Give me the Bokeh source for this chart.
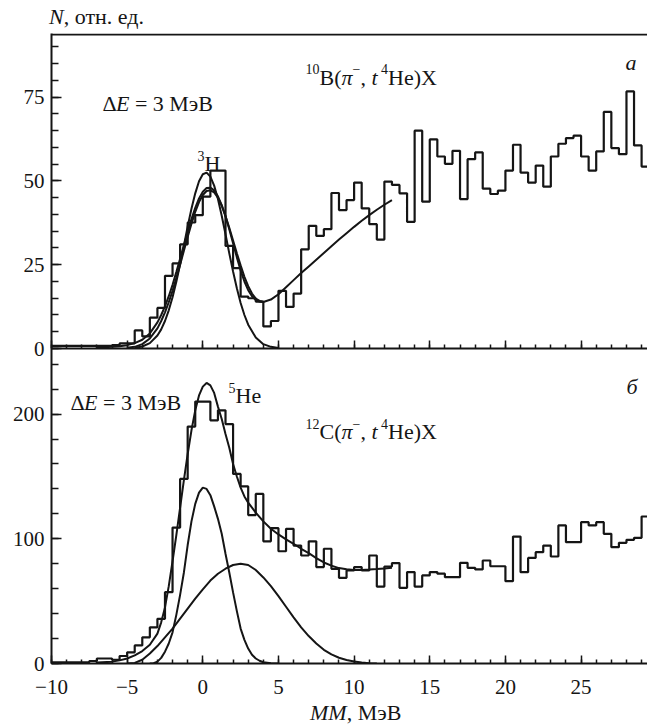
from bokeh.plotting import figure
from bokeh.models import Range1d, FixedTicker, Label, Span, Div
from bokeh.layouts import column
from bokeh.embed import file_html
from bokeh.resources import INLINE

# ---------------- data ----------------
BIN_START = -10.0
BIN_WIDTH = 0.5

# (a) 10B(pi-, t 4He)X  -- counts per 0.5 MeV bin starting at -10 MeV
TOP_COUNTS = [0.8, 0.8, 0.8, 0.8, 0.8, 0.8, 0.8, 0.8,
              1.0, 1.5, 1.5, 5.4, 3.6, 9.2, 12.1, 21.7, 25.4, 31.1, 37.6, 39.8,
              45.3, 53.1, 53.1, 30.6, 24.0, 15.5, 15.0, 14.0, 6.6, 8.2,
              17.2, 12.4, 16.4, 29.6, 36.6, 33.6, 35.6, 46.4, 41.3, 44.3,
              49.5, 41.8, 37.1, 32.5, 49.8, 48.8, 46.3, 37.8, 65.0, 43.8,
              62.4, 57.3, 55.1, 59.0, 44.6, 56.5, 58.5, 47.7, 46.1, 47.1,
              53.1, 60.8, 52.5, 49.5, 54.6, 48.3, 57.3, 61.1, 62.8, 63.5,
              57.3, 53.1, 58.8, 70.6, 59.8, 58.0, 76.7, 60.6, 54.3]

# (б) 12C(pi-, t 4He)X
BOT_COUNTS = [1.0, 1.0, 1.0, 1.0, 1.0,
              2.0, 4.0, 4.0, 3.0, 6.0, 9.0, 14.5, 21.0, 29.0, 35.8,
              57.2, 109, 148, 190, 210, 210, 195, 203, 192, 152,
              142, 119, 136, 98, 108.5, 90, 108, 94.6, 86.6, 98,
              77.3, 92, 75.9, 68.7, 74.6, 77.3, 74.6, 86.6, 61.7, 77.8,
              80.5, 60.7, 73.3, 61.7, 70.6, 73.3, 72, 69.2, 69.2, 80.7,
              76.7, 75.4, 82.6, 78, 78, 66, 101.8, 73.2, 84.7, 89.3,
              94.6, 85.8, 110.7, 97.3, 97.3, 113.3, 110.7, 113.3, 104, 93.3,
              96.8, 99.2, 100.8, 117.9]

# fit curves, panel (a)
TOP_PEAK_X = [-4.5, -4, -3.5, -3, -2.75, -2.5, -2.25, -2, -1.75, -1.5, -1.25, -1,
              -0.75, -0.5, -0.25, 0, 0.25, 0.5, 0.75, 1, 1.25, 1.5, 1.75, 2,
              2.25, 2.5, 2.75, 3, 3.5, 4, 4.5, 5]
TOP_PEAK_Y = [0.2, 0.6, 1.6, 3.9, 5.7, 8.2, 11.4, 15.3, 19.9, 25.1, 30.7, 36.4,
              41.7, 46.3, 49.9, 52.0, 52.5, 51.3, 48.6, 44.6, 39.6, 34.1, 28.4, 23.0,
              18.0, 13.6, 10.0, 7.1, 3.3, 1.3, 0.5, 0.15]

TOP_FIT_X = [-7, -6.5, -6, -5.5, -5, -4.5, -4, -3.5, -3,
             -2.75, -2.5, -2.25, -2, -1.75, -1.5, -1.25, -1, -0.75, -0.5, -0.25,
             0, 0.25, 0.5, 0.75, 1, 1.25, 1.5, 1.75, 2, 2.25, 2.5, 2.75, 3, 3.25,
             3.5, 3.75, 4,
             4.5, 5, 5.5, 6, 6.5, 7, 7.5, 8, 8.5, 9, 9.5, 10, 10.5, 11, 11.5, 12, 12.5]
TOP_FIT_Y = [0.3, 0.4, 0.5, 0.7, 1.0, 1.6, 2.6, 4.5, 7.8,
             10.0, 12.6, 15.6, 19.0, 22.8, 26.8, 30.8, 34.8, 38.6, 42.0, 44.8,
             46.8, 47.9, 48.0, 47.2, 45.4, 42.8, 39.5, 35.6, 31.4, 27.2, 23.3, 20.0, 17.4, 15.6,
             14.5, 14.0, 13.9,
             14.6, 16.2, 18.3, 20.4, 22.5, 24.5, 26.5, 28.5, 30.5, 32.5, 34.4, 36.3, 38.1,
             39.8, 41.4, 42.9, 44.3]

TOP_ALT_X = [-5, -4.5, -4, -3.5, -3,
             -2.75, -2.5, -2.25, -2, -1.75, -1.5, -1.25, -1, -0.75, -0.5, -0.25,
             0, 0.25, 0.5, 0.75, 1, 1.25, 1.5, 1.75, 2, 2.25, 2.5, 2.75, 3, 3.25,
             3.5, 3.75, 4]
TOP_ALT_Y = [0.2, 0.5, 1.3, 3.0, 6.0,
             8.2, 10.8, 13.8, 17.2, 21.0, 25.0, 29.2, 33.3, 37.2, 40.8, 43.7,
             45.8, 47.0, 47.2, 46.6, 45.0, 42.6, 39.5, 36.0, 32.2, 28.4, 24.8, 21.4, 18.6, 16.4,
             14.9, 14.2, 13.9]

# fit curves, panel (б)
BOT_FIT_X = [-7, -6, -5.5, -5, -4.5, -4, -3.5, -3,
             -2.75, -2.5, -2.25, -2, -1.75, -1.5, -1.25, -1, -0.75, -0.5, -0.25,
             0, 0.25, 0.5, 0.75, 1, 1.25, 1.5, 1.75, 2, 2.25, 2.5, 2.75, 3,
             3.5, 4, 4.5, 5, 5.5, 6, 6.5, 7, 7.5, 8, 8.5, 9, 9.5, 10, 10.5, 11, 11.5, 12, 12.5]
BOT_FIT_Y = [0.8, 1.5, 2.5, 4.0, 6.5, 10, 15, 24,
             33, 45, 62, 82, 103, 125, 147, 168, 187, 203, 215,
             222, 225, 223, 217, 206, 196, 184, 173, 160, 150, 141, 134, 129,
             121, 114, 108, 103.5, 99.5, 96, 92, 88.5, 84.5, 81, 78.5, 76.5, 75.5, 75, 75,
             75.3, 75.7, 76.2, 76.7]

BOT_GS_X = [-3.5, -3.25, -3, -2.75, -2.5, -2.25, -2, -1.75, -1.5, -1.25, -1, -0.75,
            -0.5, -0.25, 0, 0.25, 0.5, 0.75, 1, 1.25, 1.5, 1.75, 2, 2.25, 2.5, 2.75,
            3, 3.25, 3.5, 3.75, 4, 4.5, 5]
BOT_GS_Y = [0, 0.3, 1.5, 4.5, 9.5, 16, 25, 39, 55, 73, 95, 114,
            128, 137, 141, 140, 135, 126, 116, 104, 88, 73, 57, 42, 28, 19,
            12, 7, 4, 2.2, 1, 0.2, 0]

BOT_EX_X = [-5, -4.5, -4, -3.5, -3, -2.5, -2, -1.5, -1, -0.5, 0, 0.5, 1, 1.5, 2, 2.5,
            3, 3.5, 4, 4.5, 5, 5.5, 6, 6.5, 7, 7.5, 8, 8.5, 9, 9.5, 10, 10.5, 11, 11.5]
BOT_EX_Y = [0, 0.5, 3, 8, 14, 21, 28, 36, 44, 52, 59.5, 66.5, 72, 76, 79, 80,
            79, 75, 69, 62, 54, 45.5, 37, 29, 22, 16, 11, 7.3, 4.6, 2.8, 1.6, 0.8, 0.3, 0]

X_MAJOR = [-10, -5, 0, 5, 10, 15, 20, 25]
X_MINOR = list(range(-10, 30))
X_LABELS = {-10: "\u221210", -5: "\u22125"}
TOP_Y_MAJOR = [0, 25, 50, 75]
TOP_Y_MINOR = list(range(0, 95, 5))
BOT_Y_MAJOR = [0, 100, 200]
BOT_Y_MINOR = list(range(0, 260, 20))

# ---------------- style ----------------
FONT = "Liberation Serif"
INK = "#151515"
FS_TICK = 21
FS = 22
FS_SUP = 14
SUP_RISE = 8
OVERLAP = 16   # bottom border of panel (a) that panel (б) is laid over

W_UP = {"Δ": .612, "E": .611, "=": .564, " ": .25, "М": .889, "э": .444, "В": .667,
        "B": .667, "C": .667, "(": .333, ")": .333, ",": .25, "H": .722, "e": .444,
        "X": .722, "о": .5, "т": .444, "н": .5, ".": .25, "е": .444, "д": .5,
        "\u2212": .564}
W_IT = {"N": .667, "E": .611, "π": .5, "t": .278, "M": .833, "a": .5, "б": .5}


def runs(p, x, y, parts):
    """parts: (text, italic, superscript) runs laid out left to right."""
    off = 0.0
    for text, ital, sup in parts:
        size = FS_SUP if sup else FS
        table = W_IT if ital else W_UP
        lead = len(text) - len(text.lstrip(" "))
        off += lead * W_UP[" "] * size
        body = text.lstrip(" ")
        p.add_layout(Label(x=x, y=y, x_offset=off, y_offset=SUP_RISE if sup else 0,
                           text=body, text_font=FONT,
                           text_font_size=f"{size}px",
                           text_font_style="italic" if ital else "normal",
                           text_color=INK, text_baseline="alphabetic", text_align="left"))
        off += sum(table.get(ch, 0.5) for ch in body) * size


def style_axis(ax, major_in, minor_in):
    ax.axis_line_width = 2
    ax.axis_line_color = INK
    ax.major_tick_in = major_in
    ax.major_tick_out = 0
    ax.minor_tick_in = minor_in
    ax.minor_tick_out = 0
    ax.major_tick_line_width = 1.5
    ax.minor_tick_line_width = 1.5
    ax.major_tick_line_color = INK
    ax.minor_tick_line_color = INK
    ax.major_label_text_font = FONT
    ax.major_label_text_font_size = f"{FS_TICK}px"
    ax.major_label_text_color = INK


def hist_step(p, counts):
    edges = [BIN_START + BIN_WIDTH * i for i in range(len(counts) + 1)]
    ys = list(counts) + [counts[-1]]
    p.step(x=edges, y=ys, mode="after", line_color=INK, line_width=2.2)


xr = Range1d(-10, 29.39)

# ---------------- header ----------------
head = Div(width=647, height=30, margin=(0, 0, 0, 0),
           text=('<div style="font-family:\'Liberation Serif\';font-size:22px;line-height:33px;'
                 'padding-left:49px;white-space:nowrap;color:#151515">'
                 '<i>N</i>, отн. ед.</div>'))

# ---------------- panel (a) ----------------
p1 = figure(width=647, height=3 + 315 + OVERLAP, x_range=xr, y_range=Range1d(0, 94),
            output_backend="svg", toolbar_location=None,
            min_border_left=51, min_border_right=0, min_border_top=3,
            min_border_bottom=OVERLAP)
p1.grid.visible = False
p1.outline_line_color = None
p1.xaxis.ticker = FixedTicker(ticks=X_MAJOR, minor_ticks=X_MINOR)
p1.yaxis.ticker = FixedTicker(ticks=TOP_Y_MAJOR, minor_ticks=TOP_Y_MINOR)
style_axis(p1.xaxis[0], 8, 4)
style_axis(p1.yaxis[0], 10, 7)
p1.yaxis.major_label_standoff = 7
p1.xaxis.major_label_overrides = {t: "" for t in X_MAJOR}
p1.xaxis.major_label_text_font_size = "0px"
p1.xaxis.major_label_standoff = 0
p1.add_layout(Span(location=93.7, dimension="width", line_color=INK, line_width=2))

hist_step(p1, TOP_COUNTS)
p1.line(TOP_PEAK_X, TOP_PEAK_Y, line_color=INK, line_width=2)
p1.line(TOP_FIT_X, TOP_FIT_Y, line_color=INK, line_width=2)
p1.line(TOP_ALT_X, TOP_ALT_Y, line_color=INK, line_width=2)

runs(p1, -6.63, 73.1, [("Δ", False, False), ("E", True, False), (" = 3 МэВ", False, False)])
runs(p1, -0.35, 55.2, [("3", False, True), ("H", False, False)])
runs(p1, 6.79, 80.9, [("10", False, True), ("B(", False, False), ("π", True, False),
                      ("\u2212", False, True), (", ", False, False), ("t", True, False),
                      (" 4", False, True), ("He)X", False, False)])
runs(p1, 27.94, 85.3, [("a", True, False)])

# ---------------- panel (б) ----------------
p2 = figure(width=647, height=354, x_range=xr, y_range=Range1d(0, 252.6),
            output_backend="svg", toolbar_location=None,
            min_border_left=51, min_border_right=0, min_border_top=0, min_border_bottom=39)
p2.margin = (-OVERLAP, 0, 0, 0)
p2.background_fill_color = None
p2.border_fill_color = None
p2.grid.visible = False
p2.outline_line_color = None
p2.xaxis.ticker = FixedTicker(ticks=X_MAJOR, minor_ticks=X_MINOR)
p2.yaxis.ticker = FixedTicker(ticks=BOT_Y_MAJOR, minor_ticks=BOT_Y_MINOR)
style_axis(p2.xaxis[0], 8, 4)
style_axis(p2.yaxis[0], 10, 7)
p2.yaxis.major_label_standoff = 7
p2.xaxis.major_label_standoff = 16
p2.xaxis.major_label_overrides = X_LABELS

hist_step(p2, BOT_COUNTS)
p2.line(BOT_FIT_X, BOT_FIT_Y, line_color=INK, line_width=2)
p2.line(BOT_GS_X, BOT_GS_Y, line_color=INK, line_width=2)
p2.line(BOT_EX_X, BOT_EX_Y, line_color=INK, line_width=2)

runs(p2, -8.74, 209.3, [("Δ", False, False), ("E", True, False), (" = 3 МэВ", False, False)])
runs(p2, 1.70, 214.9, [("5", False, True), ("He", False, False)])
runs(p2, 6.79, 186.0, [("12", False, True), ("C(", False, False), ("π", True, False),
                       ("\u2212", False, True), (", ", False, False), ("t", True, False),
                       (" 4", False, True), ("He)X", False, False)])
runs(p2, 28.01, 222.1, [("б", True, False)])

# ---------------- x-axis title ----------------
foot = Div(width=647, height=21, margin=(0, 0, 0, 0),
           text=('<div style="font-family:\'Liberation Serif\';font-size:22px;line-height:21px;'
                 'padding-left:310px;white-space:nowrap;color:#151515">'
                 '<i>MM</i>, МэВ</div>'))

layout = column(head, p1, p2, foot, spacing=0)
open("out.html", "w").write(file_html(layout, INLINE))
